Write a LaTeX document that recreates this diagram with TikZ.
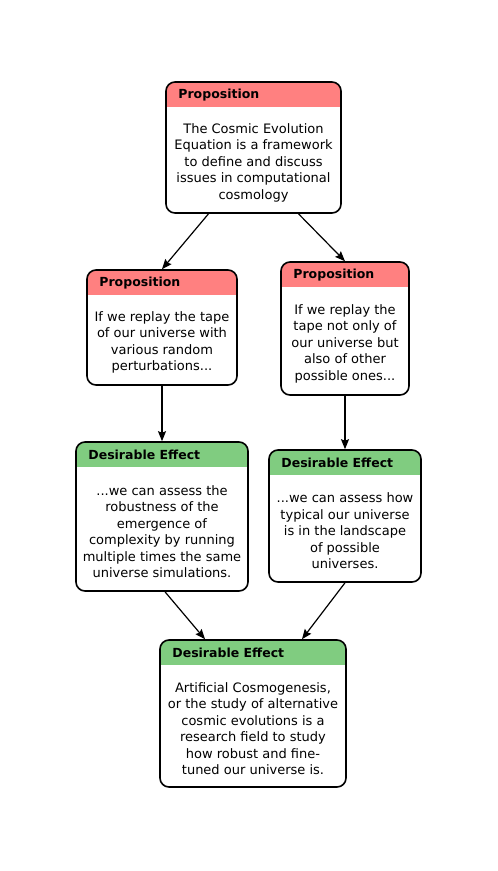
\documentclass[tikz,border=0pt]{standalone}
\usepackage{fontspec}
\setmainfont{DejaVu Sans}
\usetikzlibrary{arrows.meta,positioning}

\definecolor{propred}{RGB}{255,128,128}
\definecolor{effgreen}{RGB}{128,204,128}

\begin{document}
\begin{tikzpicture}[
    x=1pt, y=-1pt,
    card/.style={draw, line width=1.6pt, rounded corners=9pt, fill=white, inner sep=0pt},
    proposition/.style={card, path picture={\fill[propred, sharp corners] (path picture bounding box.north west) rectangle ([yshift=-25pt]path picture bounding box.north east);}},
    effect/.style={card, path picture={\fill[effgreen, sharp corners] (path picture bounding box.north west) rectangle ([yshift=-25pt]path picture bounding box.north east);}},
    head/.style={anchor=west, inner sep=0pt, font=\fontsize{12.5}{14}\selectfont\bfseries},
    body/.style={align=center, inner sep=0pt, font=\fontsize{13}{16.5}\selectfont},
    arr/.style={-{Stealth[length=10pt,width=8pt,inset=1.5pt]}, line width=1.2pt}
]
\useasboundingbox (0,0) rectangle (498,871);

% Top proposition
\node[proposition, minimum width=175pt, minimum height=131pt] (top) at (253.5,147.5) {};
\node[head] (topHead) at ([xshift=13pt,yshift=-14pt]top.north west) {Proposition};
\node[body] (topText) at ([yshift=-15pt]top.center) {The Cosmic Evolution\\Equation is a framework\\to define and discuss\\issues in computational\\cosmology};

% Second row: propositions
\node[proposition, minimum width=150pt, minimum height=115pt] (lprop) at (162,327.5) {};
\node[head] (lpropHead) at ([xshift=13pt,yshift=-14pt]lprop.north west) {Proposition};
\node[body] (lpropText) at ([yshift=-15pt]lprop.center) {If we replay the tape\\of our universe with\\various random\\perturbations...};

\node[proposition, minimum width=128pt, minimum height=133pt] (rprop) at (345,328.5) {};
\node[head] (rpropHead) at ([xshift=13pt,yshift=-14pt]rprop.north west) {Proposition};
\node[body] (rpropText) at ([yshift=-15pt]rprop.center) {If we replay the\\tape not only of\\our universe but\\also of other\\possible ones...};

% Third row: desirable effects
\node[effect, minimum width=172pt, minimum height=149pt] (lde) at (162,516.5) {};
\node[head] (ldeHead) at ([xshift=13pt,yshift=-14pt]lde.north west) {Desirable Effect};
\node[body] (ldeText) at ([yshift=-15pt]lde.center) {...we can assess the\\robustness of the\\emergence of\\complexity by running\\multiple times the same\\universe simulations.};

\node[effect, minimum width=152pt, minimum height=132pt] (rde) at (345,516) {};
\node[head] (rdeHead) at ([xshift=13pt,yshift=-14pt]rde.north west) {Desirable Effect};
\node[body] (rdeText) at ([yshift=-15pt]rde.center) {...we can assess how\\typical our universe\\is in the landscape\\of possible\\universes.};

% Bottom effect
\node[effect, minimum width=186pt, minimum height=147pt] (bottom) at (253,713.5) {};
\node[head] (bottomHead) at ([xshift=13pt,yshift=-14pt]bottom.north west) {Desirable Effect};
\node[body] (bottomText) at ([yshift=-15pt]bottom.center) {Artificial Cosmogenesis,\\or the study of alternative\\cosmic evolutions is a\\research field to study\\how robust and fine-\\tuned our universe is.};

% Connections
\draw[arr] ([xshift=-45pt]top.south) -- (lprop.north);
\draw[arr] ([xshift=45pt]top.south) -- (rprop.north);
\draw[arr] (lprop) -- (lde);
\draw[arr] (rprop) -- (rde);
\draw[arr] ([xshift=3pt]lde.south) -- ([xshift=-48pt]bottom.north);
\draw[arr] (rde.south) -- ([xshift=49pt]bottom.north);

\end{tikzpicture}
\end{document}
